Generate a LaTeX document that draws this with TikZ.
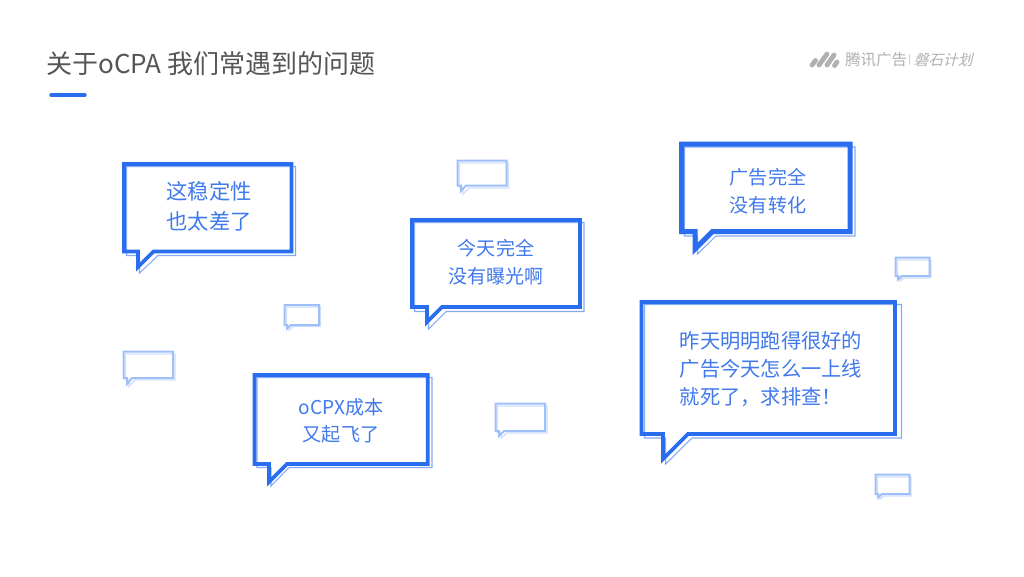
\documentclass[tikz,border=0pt]{standalone}
\usepackage{fontspec}
\setmainfont{Noto Sans CJK SC}
\newfontfamily\cjk{Noto Sans CJK SC}
\definecolor{mainblue}{HTML}{2B6DEF}
\definecolor{shadeblue}{HTML}{86ABF6}
\definecolor{textblue}{HTML}{4079EC}
\definecolor{lightmain}{HTML}{9FBFFA}
\definecolor{lightshade}{HTML}{D3E1FC}
\definecolor{titlegray}{HTML}{555555}
\definecolor{logogray}{HTML}{B0B0B0}
\newcommand{\bub}[8][]{\path[fill=white,line join=miter,miter limit=10,#1] (#2,#3) -- (#4,#3) -- (#4,#5) -- (#8,#5) -- (#6,#7) -- (#6,#5) -- (#2,#5) -- cycle;}
\tikzset{
  x=0.75pt,y=-0.75pt,
  main/.style={fill=none,draw=mainblue,line width=#1*0.75pt},
  shade/.style={draw=shadeblue,line width=0.8pt},
  lmain/.style={fill=none,draw=lightmain,line width=1.5pt},
  lshade/.style={draw=lightshade,line width=1.1pt},
  said/.style={text=textblue,inner sep=0pt,align=center},
  logopill/.style={line width=3.6pt,line cap=round,draw=logogray},
}
\begin{document}
\begin{tikzpicture}
\useasboundingbox (0,0) rectangle (1024,576);
\fill[white] (0,0) rectangle (1024,576);
% title
\node[anchor=west,inner sep=0pt,text=titlegray,font=\fontsize{19.5pt}{24pt}\selectfont] (title) at (46,64) {关于oCPA 我们常遇到的问题};
\draw[mainblue,line width=2.6pt,line cap=round] (51,95) -- (85,95);
% logo
\draw[logopill] (812,65) -- (815.5,60.5);
\draw[logopill] (819,65) -- (827,54);
\draw[logopill] (827,65) -- (834,55);
\draw[logopill] (834.5,65.5) -- (837,62);
\node[anchor=west,inner sep=0pt,text=logogray,font=\fontsize{11.6pt}{14pt}\selectfont] (brand) at (845,60) {腾讯广告};
\node[anchor=center,inner sep=0pt,text=logogray,font=\fontsize{7pt}{8pt}\selectfont] (sep) at (909.5,60) {|};
\node[anchor=west,inner sep=0pt,text=logogray,xslant=0.25,font=\fontsize{11pt}{14pt}\selectfont] (plan) at (915,60) {磐石计划};
% small bubbles
\bub[lshade]{459.5}{163}{508.5}{188}{463}{194}{469}
\bub[lmain]{457.5}{160.5}{506.5}{185.5}{461}{191}{466}
\bub[lshade]{286.5}{307}{320.5}{326.5}{289}{330}{293}
\bub[lmain]{284.5}{305}{319}{325}{287}{328.5}{291}
\bub[lshade]{125.5}{354}{175}{380}{129}{386}{135}
\bub[lmain]{123.5}{351.5}{173}{378}{127}{384}{132}
\bub[lshade]{497.5}{406}{547}{433}{501}{438}{507}
\bub[lmain]{495.5}{403.5}{545}{431}{499}{436}{504}
\bub[lshade]{897.5}{260}{931}{278}{900}{281}{904}
\bub[lmain]{895.5}{257.5}{929.5}{276}{898}{279.5}{902}
\bub[lshade]{877.5}{477}{911}{496}{880}{499}{884}
\bub[lmain]{875.5}{474.5}{909.5}{494}{878}{497.5}{882}
% bubble 1
\bub[shade]{126.5}{166.5}{295.5}{255.5}{139.5}{273}{158}
\bub[main=3.8]{124}{164}{291.5}{251.5}{138}{267}{153.5}
\node[said,font=\fontsize{16pt}{22.5pt}\selectfont] (b1) at (209,206.5) {这稳定性\\也太差了};
% bubble 2
\bub[shade]{414.5}{222.5}{584}{311.5}{428.5}{329}{446}
\bub[main=3.8]{412}{220}{580}{307}{427}{322}{442}
\node[said,font=\fontsize{14.3pt}{21pt}\selectfont] (b2) at (496,262) {今天完全\\没有曝光啊};
% bubble 3
\bub[shade]{684.5}{147}{855}{236}{697.5}{254}{716}
\bub[main=5]{681.5}{144}{850}{231.5}{695}{249}{712.5}
\node[said,font=\fontsize{14.3pt}{21pt}\selectfont] (b3) at (768,191) {广告完全\\没有转化};
% bubble 4
\bub[shade]{257}{377.5}{432}{467.5}{271}{486}{289}
\bub[main=3.6]{254.5}{375}{427.7}{464}{269}{482}{287}
\node[said,font=\fontsize{14.3pt}{20.5pt}\selectfont] (b4) at (341,421) {oCPX成本\\又起飞了};
% bubble 5
\bub[shade]{644.5}{304.5}{901.5}{438}{665.7}{464}{692}
\bub[main=3.8]{641.5}{302}{895}{434}{663}{459}{688}
\node[said,align=left,font=\fontsize{15.2pt}{21pt}\selectfont] (b5) at (771,369) {昨天明明跑得很好的\\广告今天怎么一上线\\就死了，求排查！};
\end{tikzpicture}
\end{document}
